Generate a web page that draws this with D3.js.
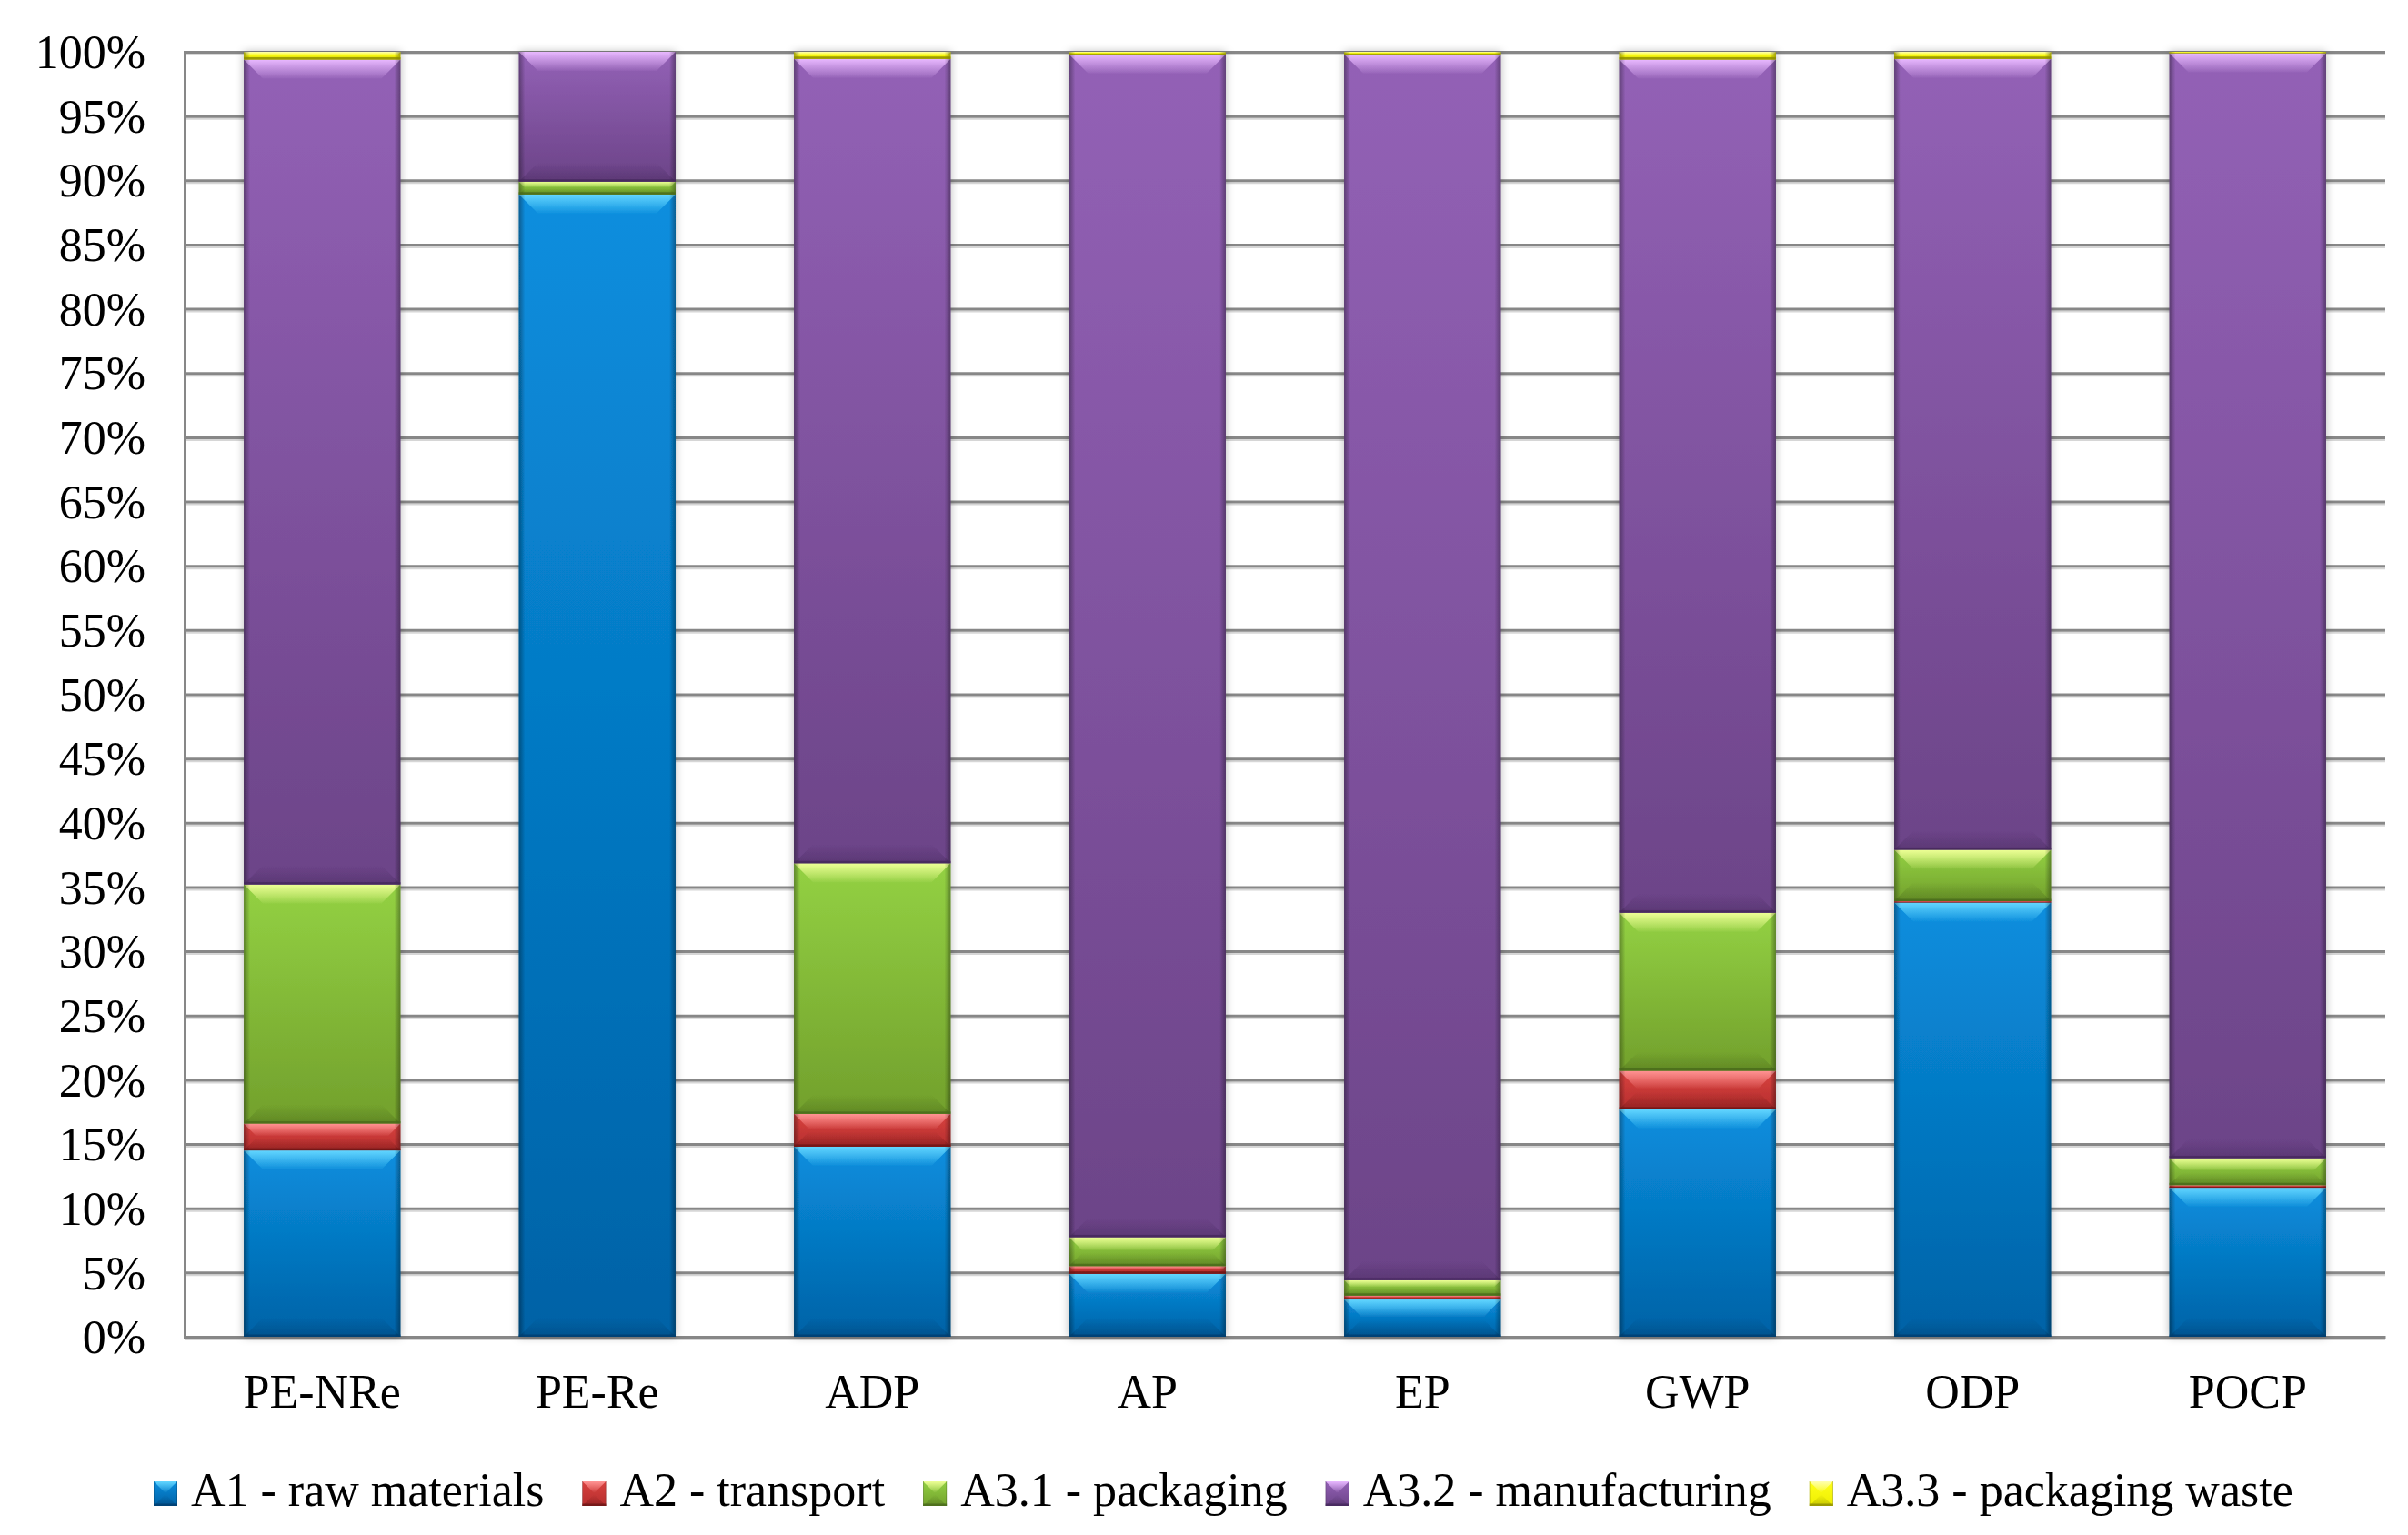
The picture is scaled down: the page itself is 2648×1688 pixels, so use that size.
<!DOCTYPE html>
<html>
<head>
<meta charset="utf-8">
<script src="https://cdn.jsdelivr.net/npm/d3@7"></script>
<style>
  body { margin: 0; background: #fff; }
  text { font-family: "Liberation Serif", "Times New Roman", serif; fill: #000; }
</style>
</head>
<body>
<div id="chart"></div>
<script>
// values (percent of each indicator)
const categories = ["PE-NRe", "PE-Re", "ADP", "AP", "EP", "GWP", "ODP", "POCP"];
const seriesKeys = ["A1", "A2", "A3.1", "A3.2", "A3.3"];
const seriesLabels = ["A1 - raw materials", "A2 - transport", "A3.1 - packaging", "A3.2 - manufacturing", "A3.3 - packaging waste"];
const a1 = [14.5, 88.9, 14.8, 4.9, 2.9, 17.7, 33.8, 11.6];
const a2 = [2.1, 0, 2.55, 0.6, 0.3, 3.0, 0.1, 0.2];
const a31 = [18.6, 1.0, 19.5, 2.25, 1.2, 12.3, 4.0, 2.1];
const a32 = [64.2, 10.1, 62.6, 92.05, 95.4, 66.4, 61.55, 86.0];
const a33 = [0.6, 0, 0.55, 0.2, 0.2, 0.6, 0.55, 0.1];
const yTicks = [0, 5, 10, 15, 20, 25, 30, 35, 40, 45, 50, 55, 60, 65, 70, 75, 80, 85, 90, 95, 100];

// colours: base top, base bottom, highlight, dark edge
const palette = {
  "A1":   ["#0a8ede", "#0062a6", "#63d6ff", "#003f70"],
  "A2":   ["#d9423f", "#b52e2e", "#ff9494", "#6e1616"],
  "A3.1": ["#93d143", "#72a02c", "#eeff96", "#4a6a1c"],
  "A3.2": ["#9361b6", "#6c4488", "#e8b8ff", "#45285c"],
  "A3.3": ["#ffff1a", "#eeee00", "#ffffb0", "#8e8e00"]
};

const width = 2648, height = 1688;
const plotLeft = 203, plotRight = 2623, plotTop = 57, plotBottom = 1470;

const rows = categories.map((c, i) => ({
  cat: c, "A1": a1[i], "A2": a2[i], "A3.1": a31[i], "A3.2": a32[i], "A3.3": a33[i]
}));
const stacked = d3.stack().keys(seriesKeys).offset(d3.stackOffsetExpand)(rows);

const svg = d3.select("#chart").append("svg")
  .attr("width", width)
  .attr("height", height)
  .style("background", "#fff");

const defs = svg.append("defs");
const shadow = defs.append("filter").attr("id", "barShadow")
  .attr("x", "-20%").attr("y", "-5%").attr("width", "140%").attr("height", "110%");
shadow.append("feDropShadow")
  .attr("dx", 0).attr("dy", 0).attr("stdDeviation", 5)
  .attr("flood-color", "#000").attr("flood-opacity", 0.28);

seriesKeys.forEach((k, i) => {
  const c = palette[k];
  const base = defs.append("linearGradient").attr("id", "base" + i)
    .attr("x1", 0).attr("y1", 0).attr("x2", 0).attr("y2", 1);
  base.append("stop").attr("offset", "0%").attr("stop-color", c[0]);
  base.append("stop").attr("offset", "100%").attr("stop-color", c[1]);
  const hi = defs.append("linearGradient").attr("id", "hi" + i)
    .attr("x1", 0).attr("y1", 0).attr("x2", 0).attr("y2", 1);
  hi.append("stop").attr("offset", "0%").attr("stop-color", c[2]).attr("stop-opacity", 1);
  hi.append("stop").attr("offset", "100%").attr("stop-color", c[2]).attr("stop-opacity", 0.05);
  const lo = defs.append("linearGradient").attr("id", "lo" + i)
    .attr("x1", 0).attr("y1", 0).attr("x2", 0).attr("y2", 1);
  lo.append("stop").attr("offset", "0%").attr("stop-color", c[3]).attr("stop-opacity", 0);
  lo.append("stop").attr("offset", "100%").attr("stop-color", c[3]).attr("stop-opacity", 0.45);
});
const sides = defs.append("linearGradient").attr("id", "sides")
  .attr("x1", 0).attr("y1", 0).attr("x2", 1).attr("y2", 0);
[[0, 0.35], [0.04, 0], [0.96, 0], [1, 0.35]].forEach(s => {
  sides.append("stop").attr("offset", s[0]).attr("stop-color", "#000").attr("stop-opacity", s[1]);
});

// scales
const x = d3.scaleBand().domain(categories).range([plotLeft, plotRight])
  .paddingInner(0.43).paddingOuter(0.215);
const y = d3.scaleLinear().domain([0, 1]).range([plotBottom, plotTop]);
const yPct = d3.scaleLinear().domain([0, 100]).range([plotBottom, plotTop]);

// grid shadows
svg.append("g").selectAll("line").data(yTicks).join("line")
  .attr("x1", plotLeft).attr("x2", plotRight)
  .attr("y1", d => yPct(d) + 3).attr("y2", d => yPct(d) + 3)
  .attr("stroke", "#d6d6d6").attr("stroke-width", 2);

// y axis with gridlines
const yAxis = svg.append("g")
  .attr("transform", `translate(${plotLeft},0)`)
  .call(d3.axisLeft(yPct).tickValues(yTicks).tickSize(-(plotRight - plotLeft)).tickPadding(43)
    .tickFormat(d => d + "%"));
yAxis.select(".domain").attr("stroke", "#878787").attr("stroke-width", 3);
yAxis.selectAll(".tick line").attr("stroke", "#878787").attr("stroke-width", 3);
yAxis.selectAll(".tick text").attr("font-size", 52).attr("dy", "0.34em");

// x axis
const xAxis = svg.append("g")
  .attr("transform", `translate(0,${plotBottom})`)
  .call(d3.axisBottom(x).tickSize(0).tickPadding(41));
xAxis.select(".domain").attr("stroke", "#878787").attr("stroke-width", 3);
xAxis.selectAll(".tick text").attr("font-size", 52);

// bevelled segment
function drawSegment(g, i, x0, x1, yt, yb) {
  const h = yb - yt;
  if (h <= 0.3) return;
  const d = Math.min(21, h / 2.2);
  g.append("rect").attr("x", x0).attr("y", yt).attr("width", x1 - x0).attr("height", h)
    .attr("fill", `url(#base${i})`);
  g.append("polygon")
    .attr("points", [[x0, yt], [x1, yt], [x1 - d, yt + d], [x0 + d, yt + d]].join(" "))
    .attr("fill", `url(#hi${i})`);
  g.append("polygon")
    .attr("points", [[x0 + d, yb - d], [x1 - d, yb - d], [x1, yb], [x0, yb]].join(" "))
    .attr("fill", `url(#lo${i})`);
  g.append("rect").attr("x", x0).attr("y", yt).attr("width", x1 - x0).attr("height", h)
    .attr("fill", "url(#sides)");
  g.append("rect").attr("x", x0).attr("y", yb - Math.min(2.5, h / 3)).attr("width", x1 - x0)
    .attr("height", Math.min(2.5, h / 3)).attr("fill", palette[seriesKeys[i]][3]).attr("opacity", 0.8);
}

const bars = svg.append("g");
categories.forEach((cat, ci) => {
  const g = bars.append("g").attr("filter", "url(#barShadow)");
  stacked.forEach((layer, si) => {
    const seg = layer[ci];
    drawSegment(g, si, x(cat), x(cat) + x.bandwidth(), y(seg[1]), y(seg[0]));
  });
});

// legend
const legend = svg.append("g");
let lx = 169;
const ly = 1656;
seriesLabels.forEach((label, i) => {
  const item = legend.append("g");
  drawSegment(item, i, lx, lx + 26, ly - 27, ly);
  const t = item.append("text").attr("x", lx + 41).attr("y", ly)
    .attr("font-size", 52).text(label);
  lx += 41 + t.node().getComputedTextLength() + 42;
});
</script>
</body>
</html>
